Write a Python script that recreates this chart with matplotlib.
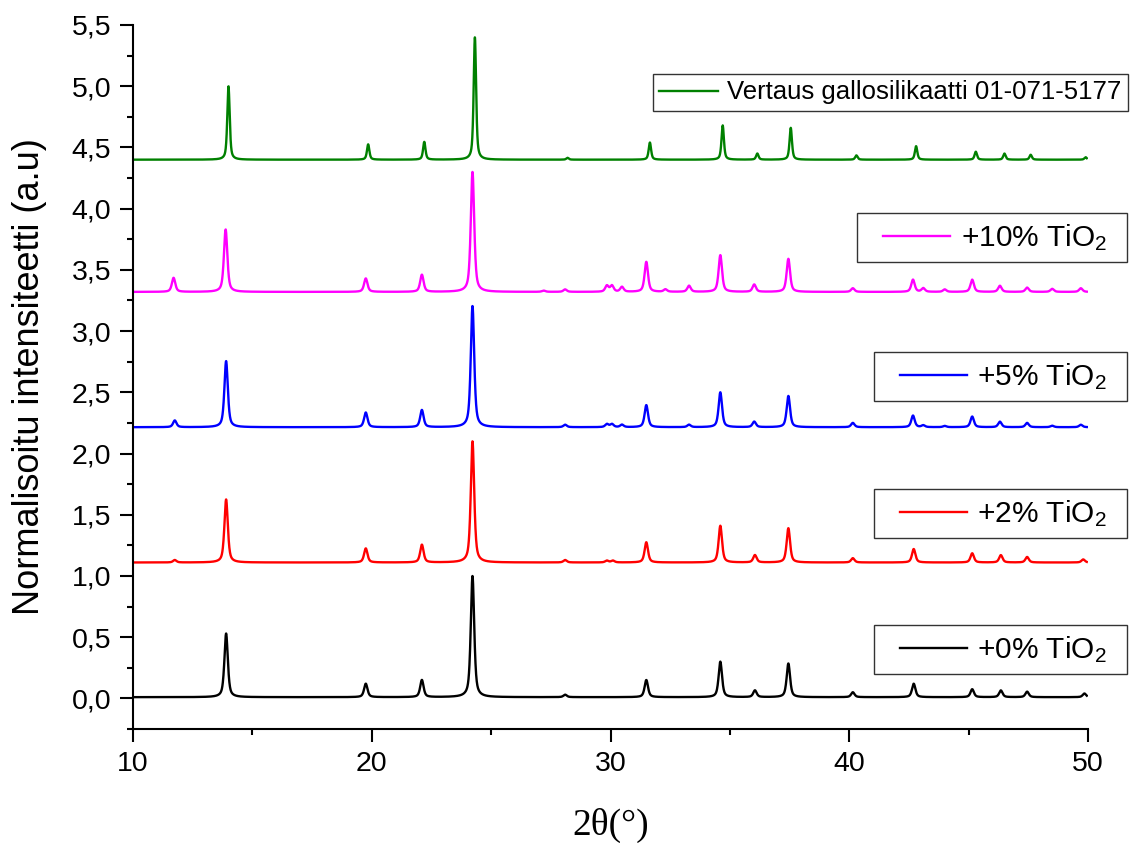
import numpy as np
import matplotlib.pyplot as plt
from matplotlib.lines import Line2D
from matplotlib.legend_handler import HandlerLine2D
from matplotlib.ticker import MultipleLocator, FuncFormatter

plt.rcParams['font.family'] = ['Liberation Sans', 'DejaVu Sans']
plt.rcParams['mathtext.default'] = 'regular'

# peak positions (2theta) and heights above the baseline
peaks_0 = [13.9, 19.75, 22.1, 24.22, 28.1, 31.5, 34.6, 36.05, 37.45, 40.15, 42.7, 45.15, 46.35, 47.45, 49.85]
heights_0 = [0.52, 0.11, 0.14, 0.99, 0.02, 0.14, 0.29, 0.055, 0.275, 0.04, 0.11, 0.065, 0.055, 0.045, 0.03]
base_0 = 0.01

peaks_2 = [11.75, 13.9, 19.75, 22.1, 24.22, 28.1, 29.85, 30.1, 31.5, 34.6, 36.05, 37.45, 40.15, 42.7,
           45.15, 46.35, 47.45, 49.8]
heights_2 = [0.02, 0.515, 0.115, 0.145, 0.99, 0.02, 0.015, 0.015, 0.165, 0.30, 0.06, 0.28, 0.035, 0.11,
             0.075, 0.06, 0.045, 0.025]
base_2 = 1.11

peaks_5 = [11.75, 13.9, 19.75, 22.1, 24.22, 28.1, 29.85, 30.06, 30.48, 31.5, 33.29, 34.6, 36.02, 37.45,
           40.15, 42.67, 43.1, 44.0, 45.15, 46.31, 47.45, 48.5, 49.7]
heights_5 = [0.055, 0.54, 0.12, 0.14, 0.99, 0.02, 0.025, 0.025, 0.02, 0.18, 0.02, 0.285, 0.045, 0.255,
             0.035, 0.095, 0.015, 0.01, 0.087, 0.045, 0.035, 0.012, 0.02]
base_5 = 2.215

peaks_10 = [11.7, 13.88, 19.75, 22.1, 24.22, 27.2, 28.1, 29.85, 30.06, 30.48, 31.5, 32.3, 33.29, 34.6,
            36.02, 37.45, 40.15, 42.67, 43.1, 44.0, 45.15, 46.31, 47.45, 48.5, 49.7]
heights_10 = [0.115, 0.51, 0.11, 0.14, 0.98, 0.01, 0.02, 0.05, 0.05, 0.04, 0.245, 0.02, 0.05, 0.30,
              0.06, 0.27, 0.03, 0.10, 0.03, 0.02, 0.10, 0.05, 0.035, 0.025, 0.03]
base_10 = 3.32

peaks_ref = [14.0, 19.85, 22.2, 24.32, 28.2, 31.65, 34.7, 36.15, 37.55, 40.3, 42.8, 45.3, 46.5, 47.6, 49.9]
heights_ref = [0.6, 0.125, 0.145, 1.0, 0.015, 0.14, 0.28, 0.05, 0.26, 0.035, 0.11, 0.065, 0.05, 0.04, 0.02]
base_ref = 4.40

labels = ['+0% TiO$_2$', '+2% TiO$_2$', '+5% TiO$_2$', '+10% TiO$_2$',
          'Vertaus gallosilikaatti 01-071-5177']
colors = ['black', '#ff0000', '#0000ff', '#ff00ff', '#008000']


# pseudo-voigt profile summed over the peak list
def pattern(tt, centers, heights, base, fwhm, eta=0.6):
    y = np.full_like(tt, base)
    hw = fwhm / 2
    for c, h in zip(centers, heights):
        d = (tt - c) / hw
        lor = 1 / (1 + d ** 2)
        gau = np.exp(-np.log(2) * d ** 2)
        y += h * (eta * lor + (1 - eta) * gau)
    return y


tt = np.linspace(10, 49.95, 6000)
series = [
    pattern(tt, peaks_0, heights_0, base_0, 0.17),
    pattern(tt, peaks_2, heights_2, base_2, 0.17),
    pattern(tt, peaks_5, heights_5, base_5, 0.17),
    pattern(tt, peaks_10, heights_10, base_10, 0.17),
    pattern(tt, peaks_ref, heights_ref, base_ref, 0.12),
]

fig = plt.figure(figsize=(11.31, 8.43), dpi=100)
ax = fig.add_axes([133 / 1131, 114 / 843, 955 / 1131, 704 / 843])

handles = []
for y, c in zip(series, colors):
    ln, = ax.plot(tt, y, color=c, lw=1.7)
    handles.append(ln)

ax.set_xlim(10, 50)
ax.set_ylim(-0.25, 5.5)
ax.spines['top'].set_visible(False)
ax.spines['right'].set_visible(False)
for s in ['left', 'bottom']:
    ax.spines[s].set_linewidth(1.5)

ax.xaxis.set_major_locator(MultipleLocator(10))
ax.xaxis.set_minor_locator(MultipleLocator(5))
ax.yaxis.set_major_locator(MultipleLocator(0.5))
ax.yaxis.set_minor_locator(MultipleLocator(0.25))
ax.yaxis.set_major_formatter(FuncFormatter(lambda v, p: f"{v:.1f}".replace('.', ',')))
ax.tick_params(which='major', length=9.5, width=1.5, labelsize=20.5, pad=6)
ax.tick_params(which='minor', length=4, width=1.5)

ax.set_ylabel('Normalisoitu intensiteetti (a.u)', fontsize=26)
ax.yaxis.set_label_coords(-0.09, 0.5)
ax.set_xlabel('2θ(°)', fontsize=27, family='Liberation Serif')
ax.xaxis.set_label_coords(0.5, -0.112)

# one boxed legend per pattern, right aligned
legend_y = [649.5, 513.5, 376.5, 237.5]
for h, lab, yc in zip(handles[:4], labels[:4], legend_y):
    leg = fig.legend(handles=[h], labels=[lab + '  '], loc='center right',
                     bbox_to_anchor=(1127 / 1131, 1 - yc / 843), bbox_transform=fig.transFigure,
                     fontsize=21.5, frameon=True, fancybox=False, edgecolor='black',
                     borderpad=0.32, borderaxespad=0, handlelength=2.8, handletextpad=0.35,
                     handler_map={Line2D: HandlerLine2D(xpad=0.55)})
    leg.get_frame().set_linewidth(1.0)

leg = fig.legend(handles=[handles[4]], labels=[labels[4]], loc='center right',
                 bbox_to_anchor=(1128 / 1131, 1 - 92.5 / 843), bbox_transform=fig.transFigure,
                 fontsize=18.5, frameon=True, fancybox=False, edgecolor='black',
                 borderpad=0.25, borderaxespad=0, handlelength=2.3, handletextpad=0.35)
leg.get_frame().set_linewidth(1.0)

fig.savefig('out.png', dpi=100, facecolor='white')
plt.close()
